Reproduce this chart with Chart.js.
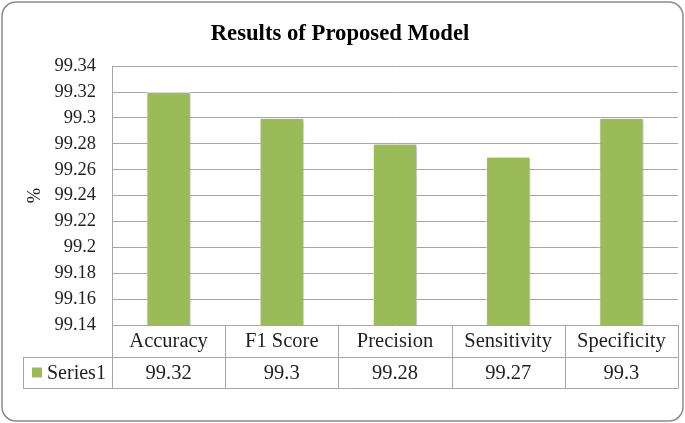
<!DOCTYPE html>
<html lang="en">
<head>
  <meta charset="UTF-8">
  <title>Results of Proposed Model</title>
  <script src="https://cdn.jsdelivr.net/npm/chart.js"></script>
  <style>
    html, body { margin: 0; padding: 0; background: #fff; }
    #wrap { width: 685px; height: 423px; position: relative; }
  </style>
</head>
<body>
  <div id="wrap"><canvas id="resultsChart" width="685" height="423"></canvas></div>

  <script>
    // data
    const categories = ["Accuracy", "F1 Score", "Precision", "Sensitivity", "Specificity"];
    const series1 = [99.32, 99.3, 99.28, 99.27, 99.3];
    const seriesName = "Series1";
    const yMin = 99.14;
    const yMax = 99.34;
    const yStep = 0.02;

    const GREEN = "#9BBB59";
    const LINE = "#a6a6a6";
    const TEXT = "#1f1f1f";
    const SERIF = "'Liberation Serif', 'Times New Roman', serif";

    const fmt = v => String(Number(Number(v).toFixed(2)));

    // outer rounded frame
    const framePlugin = {
      id: "frame",
      beforeDraw(chart) {
        const c = chart.ctx;
        c.save();
        c.fillStyle = "#fff";
        c.fillRect(0, 0, chart.width, chart.height);
        c.strokeStyle = "#8a8a8a";
        c.lineWidth = 1.5;
        c.beginPath();
        c.roundRect(2, 2, chart.width - 4, chart.height - 4, 14);
        c.stroke();
        c.restore();
      }
    };

    // soft shadow behind the bars
    const shadowPlugin = {
      id: "barShadow",
      beforeDatasetsDraw(chart) {
        const c = chart.ctx;
        c.save();
        c.shadowColor = "rgba(0,0,0,0.3)";
        c.shadowBlur = 3;
        c.shadowOffsetX = 1;
        c.shadowOffsetY = 1;
      },
      afterDatasetsDraw(chart) {
        chart.ctx.restore();
      }
    };

    // data table under the axis
    const tablePlugin = {
      id: "dataTable",
      afterDraw(chart) {
        const c = chart.ctx;
        const a = chart.chartArea;
        const xs = chart.scales.x;
        const n = categories.length;
        const colW = (a.right - a.left) / n;
        const row1Bot = a.bottom + 32;
        const row2Bot = row1Bot + 31;
        const tableLeft = 23;

        c.save();
        c.strokeStyle = LINE;
        c.lineWidth = 1;
        c.beginPath();
        [row1Bot, row2Bot].forEach(y => {
          c.moveTo(tableLeft, Math.round(y) + 0.5);
          c.lineTo(Math.round(a.right) + 0.5, Math.round(y) + 0.5);
        });
        for (let i = 0; i <= n; i++) {
          const x = Math.round(a.left + i * colW) + 0.5;
          c.moveTo(x, a.bottom);
          c.lineTo(x, row2Bot);
        }
        c.moveTo(tableLeft + 0.5, row1Bot);
        c.lineTo(tableLeft + 0.5, row2Bot);
        c.stroke();

        // legend key + series name
        const midY = (row1Bot + row2Bot) / 2;
        c.fillStyle = GREEN;
        c.fillRect(tableLeft + 9, midY - 5, 10, 10);
        c.fillStyle = TEXT;
        c.font = "20px " + SERIF;
        c.textBaseline = "middle";
        c.textAlign = "left";
        c.fillText(seriesName, tableLeft + 24, midY + 1);

        // values
        c.font = "20.5px " + SERIF;
        c.textAlign = "center";
        series1.forEach((v, i) => {
          c.fillText(fmt(v), xs.getPixelForValue(i), midY + 1);
        });
        c.restore();
      }
    };

    new Chart(document.getElementById("resultsChart"), {
      type: "bar",
      data: {
        labels: categories,
        datasets: [{
          label: seriesName,
          data: series1,
          backgroundColor: GREEN,
          borderColor: "rgba(255,255,255,0.7)",
          borderWidth: 1,
          barPercentage: 0.39,
          categoryPercentage: 1
        }]
      },
      options: {
        responsive: false,
        animation: false,
        devicePixelRatio: 1,
        layout: { padding: { left: 2, right: 7, top: 0, bottom: 66 } },
        plugins: {
          legend: { display: false },
          tooltip: { enabled: false },
          title: {
            display: true,
            text: "Results of Proposed Model",
            color: "#000",
            font: { family: SERIF, size: 22.7, weight: "bold" },
            padding: { top: 21, bottom: 18 }
          }
        },
        scales: {
          x: {
            afterFit(scale) { scale.height = 32; },
            grid: { display: false, drawTicks: false },
            border: { display: false },
            ticks: {
              color: TEXT,
              font: { family: SERIF, size: 20.5 },
              padding: 4,
              maxRotation: 0
            }
          },
          y: {
            min: yMin,
            max: yMax,
            afterFit(scale) { scale.width = 110; },
            grid: { color: LINE, drawTicks: false, lineWidth: 1 },
            border: { display: true, color: LINE, width: 1 },
            ticks: {
              stepSize: yStep,
              color: TEXT,
              font: { family: SERIF, size: 18.5 },
              padding: 16,
              callback: v => fmt(v)
            },
            title: {
              display: true,
              text: "%",
              color: TEXT,
              font: { family: SERIF, size: 18.5 },
              padding: { top: 22, bottom: 0 }
            }
          }
        }
      },
      plugins: [framePlugin, shadowPlugin, tablePlugin]
    });
  </script>
</body>
</html>
